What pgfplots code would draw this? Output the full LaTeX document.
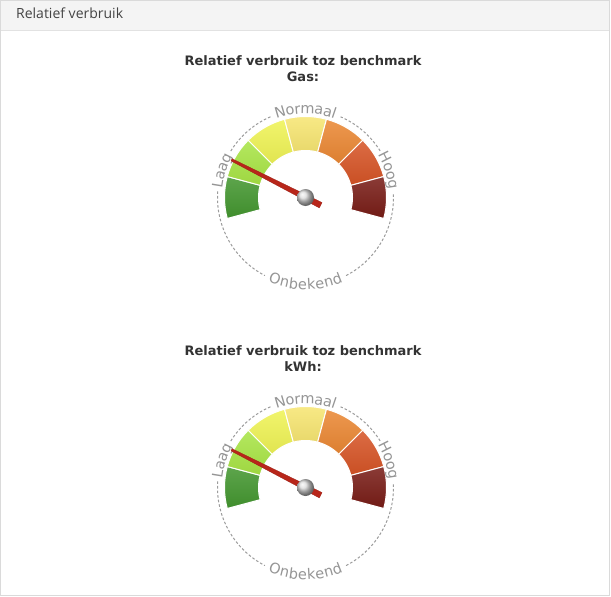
\documentclass[border=0pt]{standalone}
\usepackage{pgfplots}
\pgfplotsset{compat=1.18}
\usepackage{fontspec}
\setmainfont{DejaVu Sans}
\newfontfamily\headfont{Open Sans}
\newfontfamily\lblfontfam{DejaVu Sans}
\usetikzlibrary{decorations.text}

\definecolor{hdrbg}{HTML}{F4F4F4}
\definecolor{hdrline}{HTML}{E2E2E2}
\definecolor{framec}{HTML}{DADADA}
\definecolor{hdrtxt}{HTML}{444444}
\definecolor{ttl}{HTML}{333333}
\definecolor{lbl}{HTML}{959595}
\definecolor{dashc}{HTML}{9C9C9C}
\definecolor{sA}{HTML}{43962F}
\definecolor{sB}{HTML}{A8E445}
\definecolor{sC}{HTML}{EFF355}
\definecolor{sD}{HTML}{F7E672}
\definecolor{sE}{HTML}{EA8733}
\definecolor{sF}{HTML}{D65426}
\definecolor{sG}{HTML}{781C16}
\definecolor{needlec}{HTML}{B8261A}

\newcommand{\lblfont}{\lblfontfam\fontsize{14.5}{16}\selectfont}

% annular segment: cx cy a1 a2 colour
\newcommand{\seg}[5]{%
  \shadedraw[draw=white, line width=1pt, top color=#5!86!white, bottom color=#5!94!black]
    ([shift={(#3:47pt)}]axis cs:#1,#2) arc[start angle=#3, end angle=#4, radius=47pt]
    -- ([shift={(#4:81pt)}]axis cs:#1,#2) arc[start angle=#4, end angle=#3, radius=81pt] -- cycle;}
% dashed arc: cx cy a1 a2
\newcommand{\darc}[4]{%
  \draw[dashc, line width=1pt, dash pattern=on 2.6pt off 2pt]
    ([shift={(#3:88pt)}]axis cs:#1,#2) arc[start angle=#3, end angle=#4, radius=88pt];}
% label along arc: cx cy a1 a2 text
\newcommand{\alabel}[5]{%
  \path[decorate, decoration={text along path, text align=center, raise=-4.2pt,
      text color=lbl, text={|\lblfont|#5}}]
    ([shift={(#3:88pt)}]axis cs:#1,#2) arc[start angle=#3, end angle=#4, radius=88pt];}
% full gauge dial: cx cy
\newcommand{\dial}[2]{%
  \seg{#1}{#2}{165}{195}{sA}
  \seg{#1}{#2}{135}{165}{sB}
  \seg{#1}{#2}{105}{135}{sC}
  \seg{#1}{#2}{75}{105}{sD}
  \seg{#1}{#2}{45}{75}{sE}
  \seg{#1}{#2}{15}{45}{sF}
  \seg{#1}{#2}{-15}{15}{sG}
  \darc{#1}{#2}{113.5}{148.5}
  \darc{#1}{#2}{176}{242.5}
  \darc{#1}{#2}{297.5}{363}
  \darc{#1}{#2}{32}{66.5}
  \alabel{#1}{#2}{207}{117}{Laag}
  \alabel{#1}{#2}{135}{45}{Normaal}
  \alabel{#1}{#2}{63}{-27}{Hoog}
  \alabel{#1}{#2}{225}{315}{Onbekend}}
\newcommand{\hub}[2]{%
  \shade[ball color=white!86!black] (axis cs:#1,#2) circle[radius=8.5pt];}

\begin{document}
\begin{tikzpicture}
\begin{axis}[
  x=1pt, y=1pt, xmin=0, xmax=611, ymin=0, ymax=597,
  y dir=reverse, hide axis, clip=false, enlargelimits=false]
  % panel
  \fill[white] (axis cs:0,0) rectangle (axis cs:611,597);
  \fill[hdrbg] (axis cs:0.5,0.5) rectangle (axis cs:609.5,30.5);
  \draw[hdrline, line width=1pt] (axis cs:0.5,30.5) -- (axis cs:609.5,30.5);
  \draw[framec, line width=1pt] (axis cs:0.5,0.5) rectangle (axis cs:609.5,595.5);
  \node[anchor=base west, inner sep=0, text=hdrtxt, font=\headfont\fontsize{14}{16}\selectfont]
    at (axis cs:16,19) {Relatief verbruik};
  % titles
  \node[anchor=base, inner sep=0, text=ttl, font=\bfseries\fontsize{13}{16}\selectfont]
    at (axis cs:303,65) {Relatief verbruik toz benchmark};
  \node[anchor=base, inner sep=0, text=ttl, font=\bfseries\fontsize{13}{16}\selectfont]
    at (axis cs:303,81.7) {Gas:};
  \node[anchor=base, inner sep=0, text=ttl, font=\bfseries\fontsize{13}{16}\selectfont]
    at (axis cs:303,355) {Relatief verbruik toz benchmark};
  \node[anchor=base, inner sep=0, text=ttl, font=\bfseries\fontsize{13}{16}\selectfont]
    at (axis cs:303,371.7) {kWh:};
  % dials
  \dial{305.5}{197.5}
  \dial{305.5}{487.5}
  % needles (gauge value)
  \addplot[fill=needlec, draw=needlec!85!black, line width=0.3pt] coordinates {
    (232.10,158.75) (322.01,202.55) (319.29,207.89) (231.01,160.89) (232.10,158.75)};
  \addplot[fill=needlec, draw=needlec!85!black, line width=0.3pt] coordinates {
    (232.10,448.75) (322.01,492.55) (319.29,497.89) (231.01,450.89) (232.10,448.75)};
  \hub{305.5}{197.5}
  \hub{305.5}{487.5}
\end{axis}
\end{tikzpicture}
\end{document}
